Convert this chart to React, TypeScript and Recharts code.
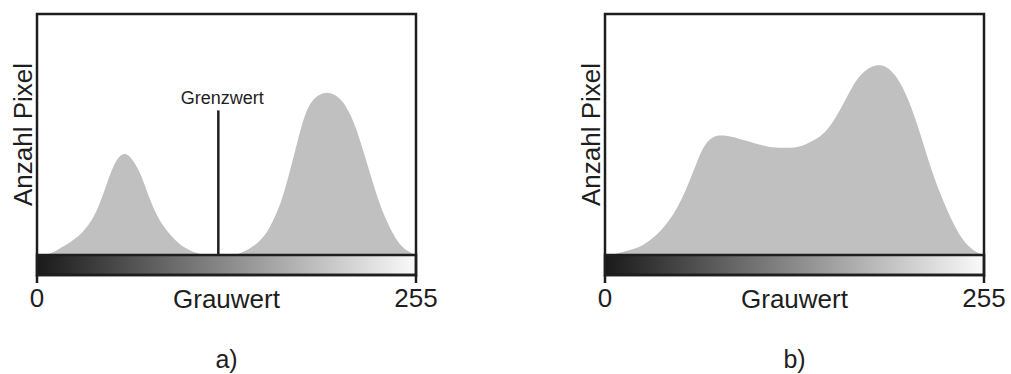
import { AreaChart, Area, XAxis, YAxis, ReferenceArea, ReferenceLine, Label } from 'recharts';

// grey values sampled every 5 steps (shared by both histograms)
const grayValues = [0, 5, 10, 15, 20, 25, 30, 35, 40, 45, 50, 55, 60, 65, 70, 75, 80, 85, 90, 95, 100, 105, 110, 115, 120, 125, 130, 135, 140, 145, 150, 155, 160, 165, 170, 175, 180, 185, 190, 195, 200, 205, 210, 215, 220, 225, 230, 235, 240, 245, 250, 255];

// a) two separated peaks with a threshold between them
const countA = [0, 0, 0.7, 2.7, 4.3, 6.4, 9.0, 12.6, 17.8, 26.0, 35.2, 41.2, 42.6, 39.2, 33.5, 24.5, 17.0, 11.9, 8.0, 5.0, 2.8, 1.2, 0.3, 0, 0, 0, 0, 0.3, 1.5, 3.4, 5.9, 9.4, 15.6, 23.2, 34.3, 46.6, 58.3, 64.3, 66.6, 67.6, 66.7, 64.4, 59.5, 52.3, 42.2, 32.0, 21.9, 14.5, 8.0, 3.6, 1.3, 0];

// b) overlapping distribution, no clear threshold
const countB = [0, 0.2, 0.9, 1.8, 2.7, 3.8, 5.9, 8.4, 11.9, 15.8, 21.1, 27.9, 35.5, 43.6, 48.1, 49.7, 49.6, 49.1, 48.3, 47.4, 46.5, 45.6, 44.8, 44.6, 44.5, 44.4, 44.8, 45.9, 47.5, 49.2, 52.2, 56.9, 62.2, 68.3, 73.5, 76.6, 78.4, 79.0, 77.9, 75.0, 70.0, 63.2, 54.4, 44.5, 34.6, 26.4, 18.8, 12.3, 6.9, 3.3, 1.0, 0];

const xTicks = [0, 255];
const xTitle = 'Grauwert';
const yTitle = 'Anzahl Pixel';
const thresholdGray = 122;
const thresholdTop = 60;
const thresholdLabel = 'Grenzwert';

const Y_MAX = 100;
const BAR = 8.3; // depth of the grey strip under the baseline, in y units

const INK = '#1e1e1e';
const FONT = '"Liberation Sans", Arial, sans-serif';

function Histogram({ count, caption, gradId, threshold }: any) {
    const data = grayValues.map((g, i) => ({ g, n: count[i] }));

    return (
        <AreaChart width={440} height={374} data={data} margin={{ top: 14, right: 24, bottom: 54, left: 0 }}>
            <defs>
                <linearGradient id={gradId} x1="0" y1="0" x2="1" y2="0">
                    <stop offset="0%" stopColor="#1a1a1a" />
                    <stop offset="100%" stopColor="#fafafa" />
                </linearGradient>
            </defs>
            <XAxis
                dataKey="g"
                type="number"
                domain={[0, 255]}
                ticks={xTicks}
                interval={0}
                height={45}
                axisLine={false}
                tickLine={{ stroke: INK, strokeWidth: 2.5 }}
                tickSize={8}
                tickMargin={6}
                tick={{ fontSize: 26, fill: INK, fontFamily: FONT }}
            >
                <Label
                    content={(p: any) => (
                        <g>
                            <text x={p.viewBox.x + p.viewBox.width / 2} y={p.viewBox.y + 32.5} textAnchor="middle" fontSize={26} fill={INK} fontFamily={FONT}>{xTitle}</text>
                            <text x={p.viewBox.x + p.viewBox.width / 2} y={p.viewBox.y + 93} textAnchor="middle" fontSize={25} fill={INK} fontFamily={FONT}>{caption}</text>
                        </g>
                    )}
                />
            </XAxis>
            <YAxis type="number" domain={[-BAR, Y_MAX]} allowDataOverflow width={37} tick={false} axisLine={false} tickLine={false}>
                <Label
                    content={(p: any) => {
                        const cx = 32;
                        const cy = p.viewBox.y + (p.viewBox.height - 20) / 2;
                        return (
                            <text x={cx} y={cy} transform={`rotate(-90 ${cx} ${cy})`} textAnchor="middle" fontSize={26} fill={INK} fontFamily={FONT}>{yTitle}</text>
                        );
                    }}
                />
            </YAxis>
            <Area type="basis" dataKey="n" fill="#c0c0c0" fillOpacity={1} stroke="none" baseValue={0} isAnimationActive={false} />
            <ReferenceArea x1={0} x2={255} y1={-BAR} y2={0} fill={`url(#${gradId})`} fillOpacity={1} stroke={INK} strokeWidth={2.5} />
            <ReferenceArea x1={0} x2={255} y1={-BAR} y2={Y_MAX} fill="none" stroke={INK} strokeWidth={2.5} />
            {threshold != null && (
                <ReferenceLine
                    segment={[{ x: threshold, y: 0 }, { x: threshold, y: thresholdTop }]}
                    stroke={INK}
                    strokeWidth={2.5}
                    label={{ value: thresholdLabel, position: 'top', offset: 6, dx: 4, fontSize: 18, fill: INK, fontFamily: FONT }}
                />
            )}
        </AreaChart>
    );
}

export default function App() {
    return (
        <div style={{ position: 'absolute', left: 0, top: 0, width: 1011, height: 374, background: '#fff', overflow: 'hidden' }}>
            <div style={{ position: 'absolute', left: 0, top: 0 }}>
                <Histogram count={countA} caption="a)" gradId="stripA" threshold={thresholdGray} />
            </div>
            <div style={{ position: 'absolute', left: 568, top: 0 }}>
                <Histogram count={countB} caption="b)" gradId="stripB" />
            </div>
        </div>
    );
}
